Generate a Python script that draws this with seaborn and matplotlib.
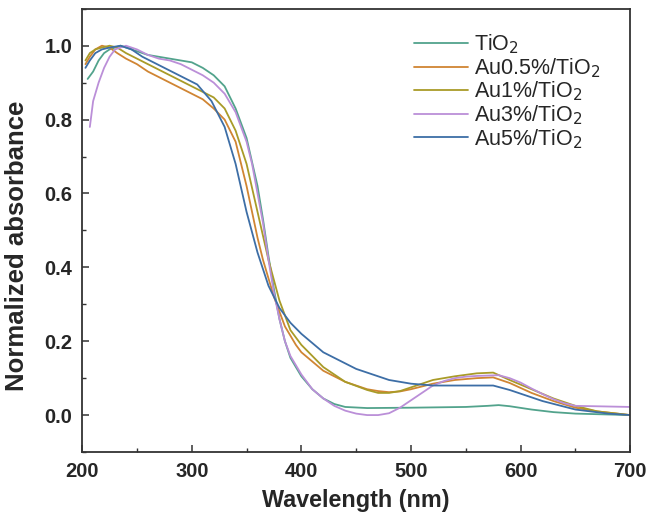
import pandas as pd
import numpy as np
import matplotlib.pyplot as plt
import seaborn as sns
from matplotlib.ticker import MultipleLocator

# spectra (wavelength nm, normalized absorbance)
tio2_wl = [205, 210, 215, 220, 225, 230, 235, 240, 250, 260, 270, 280, 290, 300, 310, 320, 330, 340,
           350, 360, 365, 370, 375, 380, 385, 390, 400, 410, 420, 430, 440, 460, 500, 550, 570, 580,
           590, 610, 630, 650, 700]
tio2_abs = [0.91, 0.93, 0.96, 0.98, 0.99, 0.995, 1.0, 0.995, 0.985, 0.975, 0.97, 0.965, 0.96, 0.955,
            0.94, 0.92, 0.89, 0.83, 0.75, 0.62, 0.53, 0.43, 0.34, 0.26, 0.20, 0.155, 0.105, 0.07,
            0.045, 0.03, 0.022, 0.019, 0.02, 0.022, 0.025, 0.027, 0.024, 0.015, 0.008, 0.004, 0.0]

au05_wl = [203, 207, 212, 218, 225, 232, 240, 250, 260, 270, 280, 290, 300, 310, 320, 330, 340, 350,
           355, 360, 365, 375, 385, 395, 400, 420, 440, 460, 470, 480, 490, 500, 520, 540, 560, 575,
           590, 610, 630, 650, 670, 700]
au05_abs = [0.95, 0.97, 0.99, 1.0, 0.995, 0.98, 0.965, 0.95, 0.93, 0.915, 0.90, 0.885, 0.87, 0.855,
            0.83, 0.80, 0.74, 0.62, 0.55, 0.48, 0.42, 0.32, 0.24, 0.19, 0.17, 0.12, 0.09, 0.07, 0.065,
            0.062, 0.064, 0.07, 0.085, 0.095, 0.10, 0.102, 0.087, 0.06, 0.038, 0.02, 0.01, 0.0]

au1_wl = [203, 207, 212, 218, 225, 232, 240, 250, 260, 270, 280, 290, 300, 310, 320, 330, 340, 350,
          360, 370, 380, 390, 400, 420, 440, 460, 470, 480, 490, 500, 520, 540, 560, 575, 590, 610,
          630, 650, 670, 700]
au1_abs = [0.96, 0.98, 0.99, 0.995, 1.0, 0.995, 0.98, 0.965, 0.95, 0.935, 0.92, 0.905, 0.89, 0.875,
           0.86, 0.83, 0.77, 0.68, 0.55, 0.42, 0.31, 0.23, 0.19, 0.13, 0.09, 0.068, 0.06, 0.06,
           0.065, 0.075, 0.095, 0.105, 0.113, 0.115, 0.095, 0.07, 0.045, 0.025, 0.01, 0.0]

au3_wl = [207, 210, 215, 220, 225, 230, 240, 245, 250, 260, 270, 280, 290, 300, 310, 320, 330, 340,
          350, 355, 360, 365, 370, 375, 380, 385, 390, 400, 410, 420, 430, 440, 450, 460, 470, 480,
          490, 500, 510, 520, 530, 540, 550, 560, 570, 580, 590, 600, 610, 620, 630, 640, 650, 700]
au3_abs = [0.78, 0.85, 0.90, 0.94, 0.97, 0.99, 1.0, 0.995, 0.99, 0.975, 0.965, 0.96, 0.95, 0.935,
           0.92, 0.90, 0.87, 0.82, 0.74, 0.68, 0.60, 0.52, 0.42, 0.33, 0.26, 0.20, 0.16, 0.11, 0.07,
           0.045, 0.025, 0.012, 0.004, 0.0, 0.0, 0.005, 0.02, 0.04, 0.06, 0.08, 0.092, 0.10, 0.104,
           0.106, 0.107, 0.108, 0.10, 0.088, 0.072, 0.057, 0.043, 0.032, 0.025, 0.022]

au5_wl = [203, 207, 212, 218, 225, 235, 245, 255, 265, 275, 285, 295, 305, 318, 330, 340, 350, 360,
          370, 380, 390, 400, 420, 450, 480, 500, 520, 540, 560, 575, 590, 600, 620, 650, 680, 700]
au5_abs = [0.94, 0.96, 0.98, 0.99, 0.995, 1.0, 0.99, 0.97, 0.955, 0.94, 0.925, 0.91, 0.895, 0.85,
           0.78, 0.68, 0.55, 0.44, 0.35, 0.29, 0.25, 0.22, 0.17, 0.125, 0.095, 0.085, 0.08, 0.08,
           0.08, 0.08, 0.068, 0.058, 0.038, 0.015, 0.004, 0.0]

labels = ["TiO$_2$", "Au0.5%/TiO$_2$", "Au1%/TiO$_2$", "Au3%/TiO$_2$", "Au5%/TiO$_2$"]
colors = ["#52a38c", "#d08533", "#a99b28", "#bb8fd8", "#3d6ea6"]

frames = []
for lab, wl, ab in zip(labels,
                       [tio2_wl, au05_wl, au1_wl, au3_wl, au5_wl],
                       [tio2_abs, au05_abs, au1_abs, au3_abs, au5_abs]):
    frames.append(pd.DataFrame({"wl": wl, "abs": ab, "sample": lab}))
df = pd.concat(frames, ignore_index=True)

sns.set_style("ticks")
plt.rcParams['font.family'] = ['Liberation Sans', 'DejaVu Sans']

fig = plt.figure(figsize=(6.47, 5.16), dpi=100)
ax = fig.add_axes([0.127, 0.124, 0.847, 0.859])

sns.lineplot(data=df, x="wl", y="abs", hue="sample", palette=colors, hue_order=labels,
             sort=False, estimator=None, linewidth=1.3, ax=ax)

ax.set_xlim(200, 700)
ax.set_ylim(-0.1, 1.1)
ax.xaxis.set_major_locator(MultipleLocator(100))
ax.xaxis.set_minor_locator(MultipleLocator(50))
ax.yaxis.set_major_locator(MultipleLocator(0.2))
ax.yaxis.set_minor_locator(MultipleLocator(0.1))
ax.yaxis.set_major_formatter(plt.FuncFormatter(lambda v, p: f"{v:.1f}"))
ax.tick_params(which="both", direction="in", color="#333333")
ax.tick_params(which="major", length=5, width=1.1, labelsize=14.5, pad=7)
ax.tick_params(which="minor", length=3, width=1.0)
for lab in ax.get_xticklabels() + ax.get_yticklabels():
    lab.set_fontweight("bold")
for s in ax.spines.values():
    s.set_linewidth(1.3)
    s.set_color("#333333")

ax.set_xlabel("Wavelength (nm)", fontsize=16.8, fontweight="bold", labelpad=6)
ax.set_ylabel("Normalized absorbance", fontsize=18.5, fontweight="bold")
ax.yaxis.set_label_coords(-0.097, 0.465)

ax.legend(frameon=False, loc="upper left", bbox_to_anchor=(0.571, 0.99), fontsize=15.5,
          handlelength=2.5, handletextpad=0.25, labelspacing=0.0, title=None)

fig.savefig("out.png", dpi=100)
